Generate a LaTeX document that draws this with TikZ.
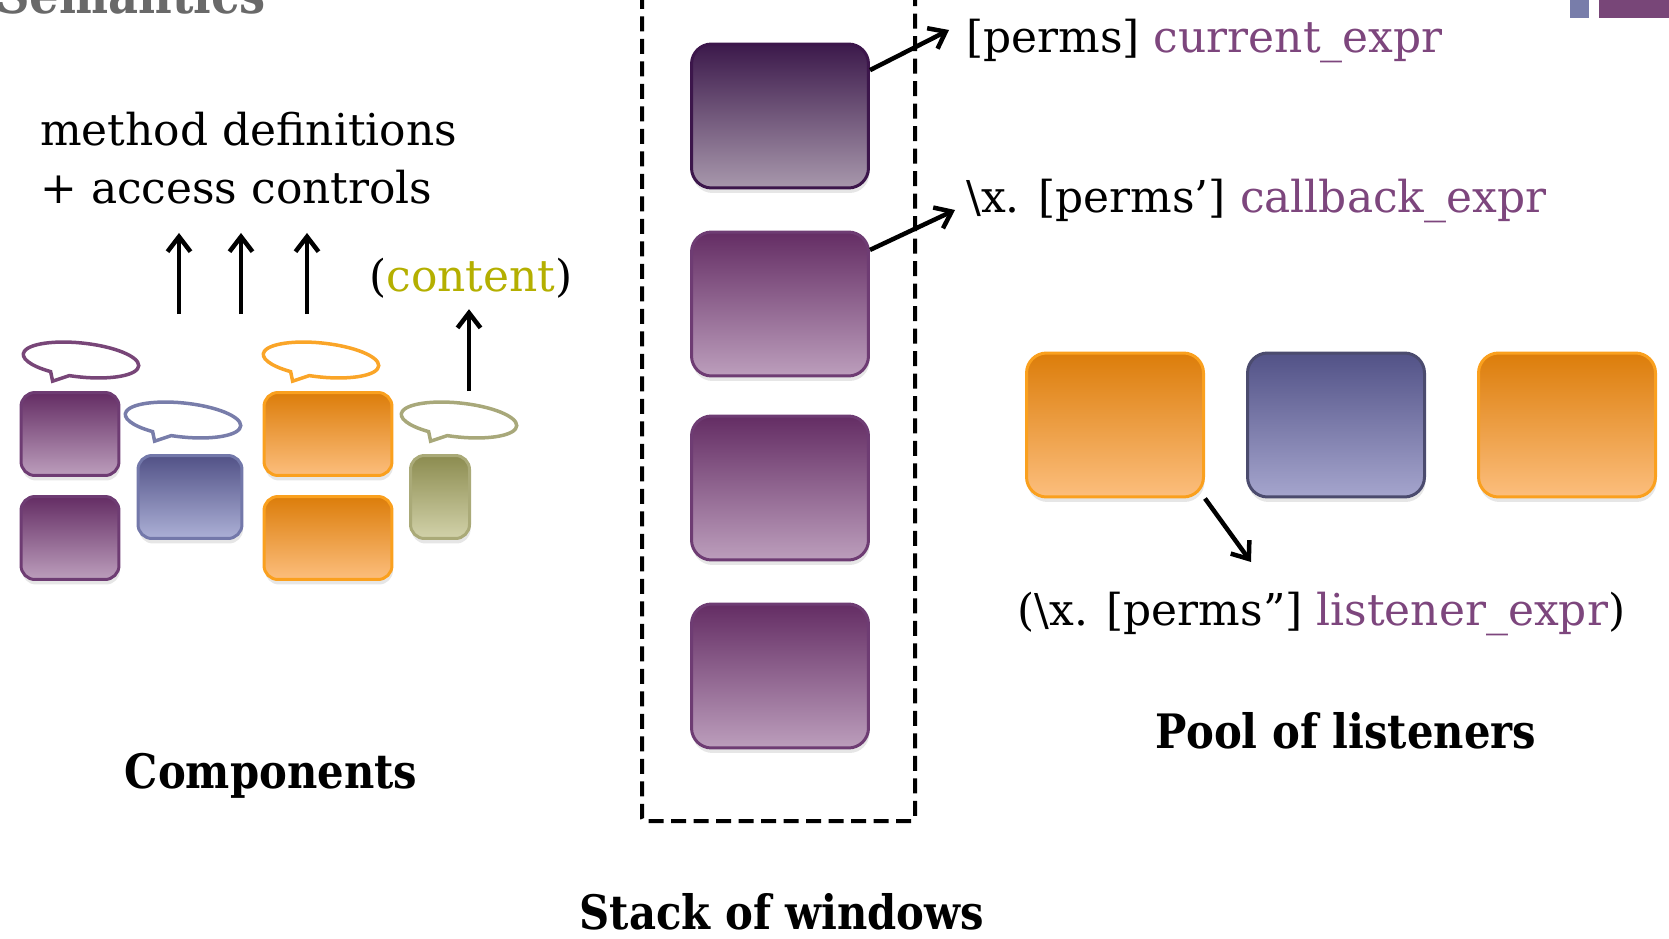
\documentclass[tikz,border=0pt]{standalone}
\usepackage{fontspec}
\setmainfont{DejaVu Serif}
\newfontfamily\headfont{DejaVu Serif}[FakeStretch=0.88]
\usetikzlibrary{arrows.meta,shadows}

\definecolor{exprpurple}{RGB}{125,70,125}
\definecolor{contentolive}{RGB}{180,175,0}
\definecolor{titlegray}{RGB}{105,105,105}
\definecolor{bubpurple}{RGB}{120,70,120}
\definecolor{bubblue}{RGB}{120,125,170}
\definecolor{buborange}{RGB}{250,165,40}
\definecolor{bubolive}{RGB}{168,168,122}

\tikzset{bubble/.pic={
    \draw[line width=0.07cm, rotate=-6] (260:58 and 17) arc[start angle=260, end angle=600, x radius=58, y radius=17] -- (-26,-24) -- cycle;
}}

\begin{document}
\begin{tikzpicture}[x=0.02cm,y=0.02cm,
        >={Straight Barb[length=0.3cm,width=0.46cm]},
        box/.style={draw, line width=0.06cm, drop shadow={shadow xshift=0.02cm, shadow yshift=-0.1cm, opacity=0.2}},
        win/.style={box, rounded corners=0.4cm, minimum width=3.54cm, minimum height=2.88cm},
        comp/.style={box, rounded corners=0.28cm, minimum height=1.66cm},
        purplebox/.style={draw={rgb,255:red,110;green,60;blue,115}, top color={rgb,255:red,100;green,45;blue,100}, bottom color={rgb,255:red,188;green,158;blue,188}},
        bluebox/.style={draw={rgb,255:red,115;green,120;blue,170}, top color={rgb,255:red,82;green,82;blue,135}, bottom color={rgb,255:red,172;green,176;blue,214}},
        orangebox/.style={draw={rgb,255:red,250;green,160;blue,30}, top color={rgb,255:red,220;green,125;blue,10}, bottom color={rgb,255:red,252;green,190;blue,125}},
        olivebox/.style={draw={rgb,255:red,170;green,170;blue,120}, top color={rgb,255:red,140;green,140;blue,80}, bottom color={rgb,255:red,210;green,210;blue,170}},
        label/.style={inner sep=0, anchor=base west, font=\fontsize{25}{30}\selectfont},
        heading/.style={inner sep=0, anchor=base, font=\fontsize{27}{30}\selectfont\headfont\bfseries}]
    \useasboundingbox (0,0) rectangle (1669,-939);

    % slide title, cut by the top edge
    \node[inner sep=0, anchor=base west, text=titlegray, font=\fontsize{30}{30}\selectfont\headfont\bfseries] (sem) at (-4,-14) {Semantics};
    \fill[bubblue] (1570,0) rectangle (1589,-18);
    \fill[bubpurple] (1599,0) rectangle (1669,-18);

    % components
    \begin{scope}[every node/.style={comp}]
        \node[purplebox, minimum width=1.96cm] (P1) at (70,-434) {};
        \node[purplebox, minimum width=1.96cm] (P2) at (70,-538) {};
        \node[bluebox, minimum width=2.08cm] (Bl) at (190,-497) {};
        \node[orangebox, minimum width=2.56cm] (O1) at (328,-434) {};
        \node[orangebox, minimum width=2.56cm] (O2) at (328,-538) {};
        \node[olivebox, minimum width=1.18cm] (G) at (440,-497) {};
    \end{scope}
    \pic[bubpurple] (bu1) at (81,-360) {bubble};
    \pic[bubblue] (bu2) at (183,-420) {bubble};
    \pic[buborange] (bu3) at (321,-360) {bubble};
    \pic[bubolive] (bu4) at (459,-420) {bubble};

    % stack of windows
    \begin{scope}[every node/.style={win}]
        \node[purplebox, draw={rgb,255:red,60;green,22;blue,75}, top color={rgb,255:red,60;green,25;blue,75}, bottom color={rgb,255:red,168;green,152;blue,172}] (W1) at (780,-116) {};
        \node[purplebox] (W2) at (780,-304) {};
        \node[purplebox] (W3) at (780,-488) {};
        \node[purplebox] (W4) at (780,-676) {};
    \end{scope}
    \draw[line width=0.08cm, dash pattern=on 0.3cm off 0.15cm, rounded corners=0.06cm] (642,6) -- (642,-821) -- (915,-821) -- (915,6);

    % pool of listeners
    \begin{scope}[every node/.style={win}]
        \node[orangebox] (L1) at (1115,-425) {};
        \node[bluebox, draw={rgb,255:red,75;green,75;blue,110}, bottom color={rgb,255:red,165;green,165;blue,205}] (L2) at (1336,-425) {};
        \node[orangebox] (L3) at (1567,-425) {};
    \end{scope}

    % texts
    \begin{scope}[every node/.style={label}]
        \node (defs1) at (40,-146) {method definitions};
        \node (defs2) at (40,-204) {+ access controls};
        \node (content) at (369,-291) {(\textcolor{contentolive}{content})};
        \node (cur) at (966,-53) {[perms] \textcolor{exprpurple}{current\_expr}};
        \node (cb) at (966,-213) {\textbackslash x. [perms’] \textcolor{exprpurple}{callback\_expr}};
        \node (lis) at (1017,-625) {(\textbackslash x. [perms”] \textcolor{exprpurple}{listener\_expr})};
    \end{scope}
    \begin{scope}[every node/.style={heading}]
        \node (comps) at (271,-788) {Components};
        \node (pool) at (1346,-748) {Pool of listeners};
        \node (stack) at (782,-929) {Stack of windows};
    \end{scope}

    \coordinate (u1) at (179,-314);
    \coordinate (u2) at (241,-314);
    \coordinate (u3) at (307,-314);
    \coordinate (c0) at (469,-391);
    \begin{scope}[every edge/.style={draw, line width=0.09cm}]
        \path [->] (u1) edge[shorten >=0.56cm] (u1 |- defs2.south);
        \path [->] (u2) edge[shorten >=0.56cm] (u2 |- defs2.south);
        \path [->] (u3) edge[shorten >=0.56cm] (u3 |- defs2.south);
        \path [->] (c0) edge[shorten >=0.22cm] (c0 |- content.south);
        \path [->] (W1.27) edge ([shift={(-17,23)}]cur.base west);
        \path [->] (W2.31) edge ([shift={(-11,3)}]cb.base west);
        \path [->] (L1.south east) edge ([shift={(234,63)}]lis.base west);
    \end{scope}
\end{tikzpicture}
\end{document}
